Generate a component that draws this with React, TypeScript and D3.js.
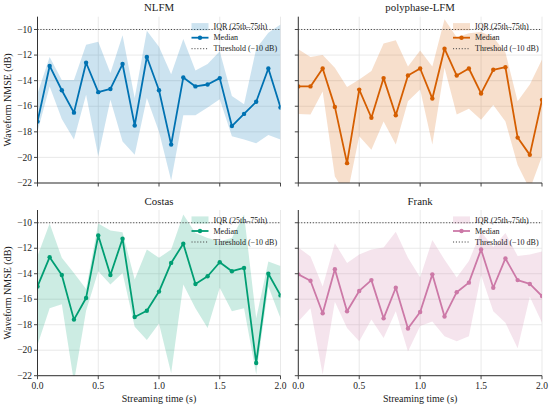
import React from 'react';
import * as d3 from 'd3';

// streaming time axis (s)
const times = [0, 0.1, 0.2, 0.3, 0.4, 0.5, 0.6, 0.7, 0.8, 0.9, 1.0, 1.1, 1.2, 1.3, 1.4, 1.5, 1.6, 1.7, 1.8, 1.9, 2.0];

const waveformNames = ['NLFM', 'polyphase-LFM', 'Costas', 'Frank'];
const waveformColors = ['#0072B2', '#D55E00', '#009E73', '#CC79A7'];

// NMSE in dB
const nlfmMedian = [-17.2, -12.85, -14.75, -16.5, -12.6, -14.9, -14.65, -12.7, -17.5, -12.15, -14.75, -19.0, -13.75, -14.45, -14.3, -13.8, -17.55, -16.6, -15.65, -13.05, -16.1];
const nlfmQ75 = [-15.0, -12.15, -13.95, -13.95, -11.2, -10.95, -13.4, -10.45, -15.35, -10.1, -11.35, -13.5, -10.75, -13.2, -12.7, -11.7, -15.2, -15.85, -11.5, -10.25, -9.6];
const nlfmQ25 = [-18.0, -14.45, -17.0, -18.6, -15.1, -19.9, -15.5, -18.75, -19.8, -15.35, -18.0, -21.8, -16.7, -16.7, -16.1, -15.45, -18.35, -18.6, -18.9, -18.25, -18.6];

const polyMedian = [-14.45, -14.45, -13.05, -16.05, -20.45, -14.7, -16.9, -13.8, -16.7, -13.6, -13.05, -15.4, -11.5, -13.6, -13.05, -15.0, -13.15, -12.95, -18.45, -19.8, -15.5];
const polyQ75 = [-11.55, -12.15, -12.0, -13.0, -14.5, -13.9, -13.25, -11.1, -10.85, -12.9, -11.65, -12.9, -9.2, -10.6, -10.3, -10.2, -10.6, -11.8, -15.6, -14.3, -12.35];
const polyQ25 = [-16.6, -16.65, -14.85, -21.5, -23.0, -18.35, -19.4, -17.2, -19.0, -15.6, -14.7, -19.0, -13.0, -16.65, -16.2, -17.05, -15.9, -17.2, -20.6, -22.5, -19.9];

const costasMedian = [-15.0, -12.7, -14.1, -17.6, -15.9, -11.0, -14.1, -11.25, -17.4, -16.9, -15.4, -13.15, -11.65, -14.8, -14.2, -13.1, -13.8, -13.55, -21.0, -14.0, -15.7];
const costasQ75 = [-12.6, -10.05, -12.75, -13.95, -15.2, -10.05, -10.6, -10.75, -14.45, -12.1, -12.75, -12.1, -9.35, -10.8, -11.2, -11.45, -11.2, -9.35, -17.5, -13.05, -13.4];
const costasQ25 = [-19.6, -16.7, -16.4, -22.5, -16.9, -13.8, -14.85, -13.95, -18.15, -19.2, -17.9, -21.8, -14.85, -16.7, -18.25, -15.1, -16.95, -16.7, -21.9, -15.0, -17.5];

const frankMedian = [-14.05, -14.55, -17.1, -13.65, -16.95, -15.35, -14.5, -17.5, -15.1, -18.3, -17.0, -14.05, -17.35, -15.45, -14.7, -12.1, -15.1, -12.8, -14.5, -14.8, -15.75];
const frankQ75 = [-11.95, -12.65, -15.0, -11.6, -13.15, -12.5, -12.1, -11.95, -10.7, -12.75, -14.3, -11.35, -12.9, -14.3, -13.0, -10.7, -11.9, -10.8, -12.6, -12.5, -12.25];
const frankQ25 = [-17.75, -16.7, -21.9, -16.2, -18.25, -19.3, -17.6, -19.05, -16.95, -20.1, -18.1, -17.75, -18.9, -19.3, -18.9, -14.1, -16.95, -17.85, -19.85, -15.8, -17.85];

const medians = [nlfmMedian, polyMedian, costasMedian, frankMedian];
const lowers = [nlfmQ25, polyQ25, costasQ25, frankQ25];
const uppers = [nlfmQ75, polyQ75, costasQ75, frankQ75];

const threshold = -10;
const xTicks = [0, 0.5, 1.0, 1.5, 2.0];
const yTicks = [-22, -20, -18, -16, -14, -12, -10];
const legendLabels = ['IQR (25th\u201375th)', 'Median', 'Threshold (\u221210 dB)'];

const FONT = 'Liberation Serif';
const W = 550;
const H = 408;

// panel boxes (px)
const cols = [[37.5, 280.5], [298.3, 542]];
const rows = [[16.7, 183], [210, 375.7]];

const fmtY = d3.format('.0f');
const fmtX = d3.format('.1f');

interface PanelProps {
  idx: number;
}

const Panel: React.FC<PanelProps> = ({ idx }) => {
  const col = idx % 2;
  const row = Math.floor(idx / 2);
  const [x0, x1] = cols[col];
  const [y0, y1] = rows[row];
  const color = waveformColors[idx];
  const clipId = `clip-${idx}`;

  const x = d3.scaleLinear().domain([0, 2]).range([x0, x1]);
  const y = d3.scaleLinear().domain([-22, -9]).range([y1, y0]);

  const med = medians[idx];
  const lo = lowers[idx];
  const hi = uppers[idx];

  const band = d3.area<number>()
    .x((d, i) => x(times[i]))
    .y0((d, i) => y(lo[i]))
    .y1((d, i) => y(hi[i]))(med) || '';
  const line = d3.line<number>()
    .x((d, i) => x(times[i]))
    .y(d => y(d))(med) || '';

  const showXLabels = row === 1;
  const showYLabels = col === 0;

  // legend
  const lx = x1 - 89;
  const ly = y0 + 10;
  const rowGap = 11;

  return (
    <g>
      <defs>
        <clipPath id={clipId}>
          <rect x={x0} y={y0} width={x1 - x0} height={y1 - y0} />
        </clipPath>
      </defs>

      {/* grid */}
      {xTicks.map(t => (
        <line key={`gx${t}`} x1={x(t)} x2={x(t)} y1={y0} y2={y1} stroke="#e3e3e3" strokeWidth={0.8} />
      ))}
      {yTicks.map(t => (
        <line key={`gy${t}`} x1={x0} x2={x1} y1={y(t)} y2={y(t)} stroke="#e3e3e3" strokeWidth={0.8} />
      ))}

      <g clipPath={`url(#${clipId})`}>
        <path d={band} fill={color} fillOpacity={0.2} stroke="none" />
        <line x1={x0} x2={x1} y1={y(threshold)} y2={y(threshold)} stroke="#444" strokeWidth={1} strokeDasharray="1.1,1.8" />
        <path d={line} fill="none" stroke={color} strokeWidth={1.8} strokeLinejoin="round" />
        {med.map((v, i) => (
          <circle key={i} cx={x(times[i])} cy={y(v)} r={2.2} fill={color} />
        ))}
      </g>

      {/* spines */}
      <line x1={x0} x2={x0} y1={y0} y2={y1} stroke="#333" strokeWidth={1} />
      <line x1={x0} x2={x1} y1={y1} y2={y1} stroke="#333" strokeWidth={1} />

      {/* ticks */}
      {xTicks.map(t => (
        <g key={`tx${t}`}>
          <line x1={x(t)} x2={x(t)} y1={y1} y2={y1 + 3.5} stroke="#333" strokeWidth={0.9} />
          {showXLabels && (
            <text x={x(t)} y={y1 + 13.5} textAnchor="middle" fontSize={9.5} fill="#222">{fmtX(t)}</text>
          )}
        </g>
      ))}
      {yTicks.map(t => (
        <g key={`ty${t}`}>
          <line x1={x0 - 3.5} x2={x0} y1={y(t)} y2={y(t)} stroke="#333" strokeWidth={0.9} />
          {showYLabels && (
            <text x={x0 - 5.5} y={y(t)} dy="0.33em" textAnchor="end" fontSize={9.5} fill="#222">{fmtY(t)}</text>
          )}
        </g>
      ))}

      {/* title */}
      <text x={(x0 + x1) / 2} y={y0 - 5.5} textAnchor="middle" fontSize={10.8} fill="#1a1a1a">{waveformNames[idx]}</text>

      {showXLabels && (
        <text x={(x0 + x1) / 2} y={402} textAnchor="middle" fontSize={10} fill="#1a1a1a">Streaming time (s)</text>
      )}
      {showYLabels && (
        <text transform={`translate(11,${(y0 + y1) / 2}) rotate(-90)`} textAnchor="middle" fontSize={10} fill="#1a1a1a">Waveform NMSE (dB)</text>
      )}

      {/* legend */}
      <g>
        <rect x={lx} y={ly - 3.6} width={17} height={7.2} fill={color} fillOpacity={0.2} />
        <text x={lx + 22} y={ly} dy="0.33em" fontSize={8} fill="#222">{legendLabels[0]}</text>
        <line x1={lx} x2={lx + 17} y1={ly + rowGap} y2={ly + rowGap} stroke={color} strokeWidth={1.8} />
        <circle cx={lx + 8.5} cy={ly + rowGap} r={2.2} fill={color} />
        <text x={lx + 22} y={ly + rowGap} dy="0.33em" fontSize={8} fill="#222">{legendLabels[1]}</text>
        <line x1={lx} x2={lx + 17} y1={ly + rowGap * 2} y2={ly + rowGap * 2} stroke="#444" strokeWidth={1} strokeDasharray="1.1,1.8" />
        <text x={lx + 22} y={ly + rowGap * 2} dy="0.33em" fontSize={8} fill="#222">{legendLabels[2]}</text>
      </g>
    </g>
  );
};

const App: React.FC = () => {
  return (
    <div style={{ position: 'absolute', left: 0, top: 0, width: W, height: H, background: '#fff' }}>
      <svg width={W} height={H} fontFamily={FONT} style={{ display: 'block' }}>
        <rect width={W} height={H} fill="#fff" />
        {waveformNames.map((_, i) => (
          <Panel key={i} idx={i} />
        ))}
      </svg>
    </div>
  );
};

export default App;
